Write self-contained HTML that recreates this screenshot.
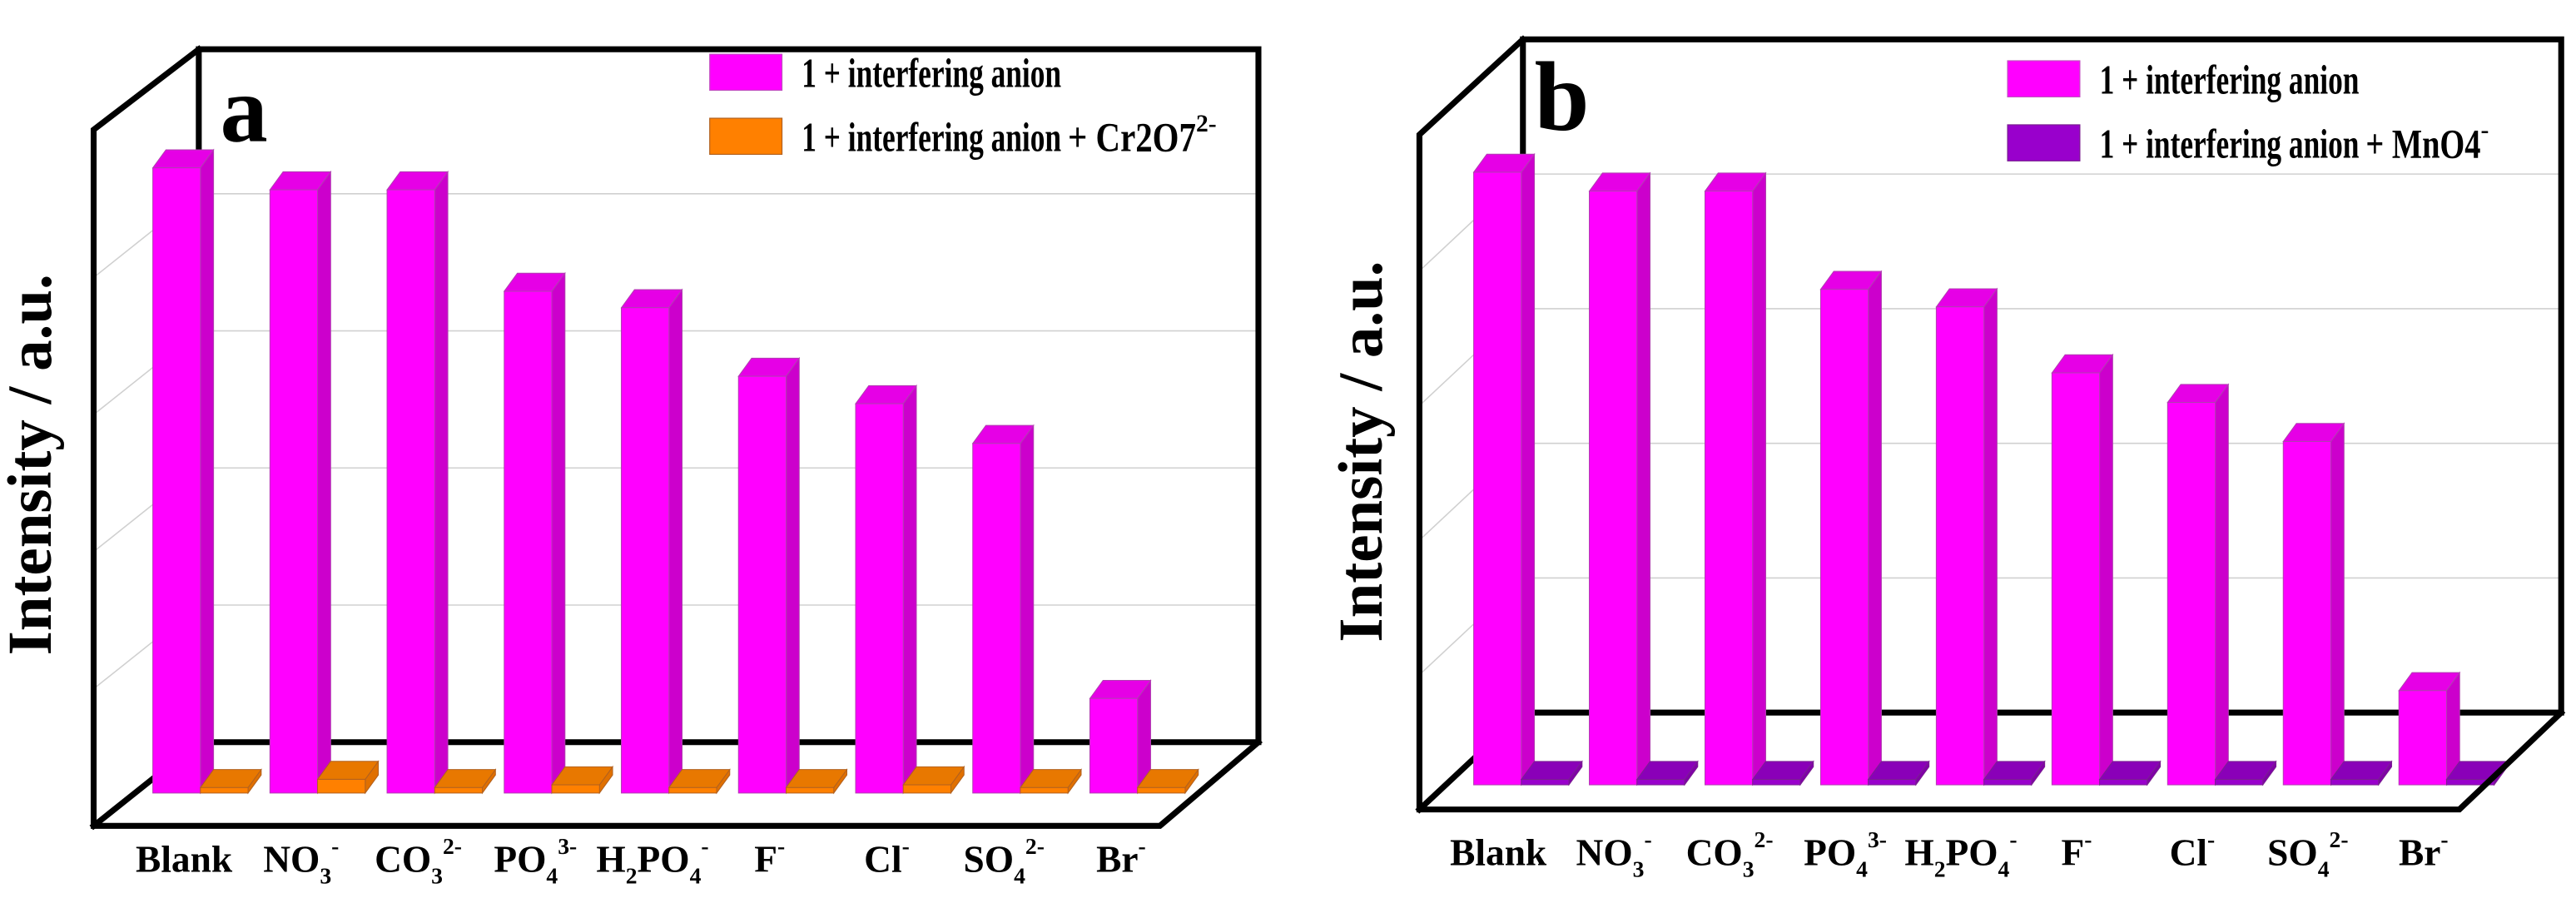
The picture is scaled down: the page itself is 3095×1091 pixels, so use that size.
<!DOCTYPE html>
<html><head><meta charset="utf-8"><style>
html,body{margin:0;padding:0;background:#fff;}
svg{display:block;}
text{font-family:"Liberation Serif",serif;font-weight:bold;fill:#000;}
</style></head>
<body>
<svg id="fig" width="3095" height="1091" viewBox="0 0 1568 553" preserveAspectRatio="none" xmlns="http://www.w3.org/2000/svg"></svg>
<script>
const categories = ["Blank","NO3-","CO32-","PO43-","H2PO4-","F-","Cl-","SO42-","Br-"];
const seriesA1 = [4560,4400,4400,3660,3540,3040,2840,2550,690];
const seriesA2 = [40,100,40,60,40,40,60,40,40];
const seriesB1 = [4550,4410,4410,3680,3550,3060,2840,2550,700];
const seriesB2 = [40,40,40,40,40,40,40,40,40];
const gridTicks = [1000,2000,3000,4000];

const NS = "http://www.w3.org/2000/svg";
const svg = document.getElementById('fig');
function mk(tag, attrs, parent){
  const e = document.createElementNS(NS, tag);
  for (const k in attrs) e.setAttribute(k, attrs[k]);
  (parent||svg).appendChild(e);
  return e;
}
const labelParts = [
  [["Blank",""]],
  [["NO",""],["3","sub"],["-","sup"]],
  [["CO",""],["3","sub"],["2-","sup"]],
  [["PO",""],["4","sub"],["3-","sup"]],
  [["H",""],["2","sub"],["PO",""],["4","sub"],["-","sup"]],
  [["F",""],["-","sup"]],
  [["Cl",""],["-","sup"]],
  [["SO",""],["4","sub"],["2-","sup"]],
  [["Br",""],["-","sup"]]
];

function drawPanel(p){
  const g = mk('g', {});
  
  
  const k = p.k;
  const yBack = v => p.backFloor - v*k;
  const yBar = v => p.barBase - v*k;
  const xBar = i => p.x0 + i*p.step;
  const dyB = p.frontBottom - p.backFloor;
  gridTicks.forEach(t => {
    const y = yBack(t);
    const l = mk('line', {x1:p.backLeft, y1:y, x2:p.backRight, y2:y, stroke:'#d0d0d0', 'stroke-width':0.8}, g);
    
    
    const d = mk('line', {x1:p.backLeft, y1:y, x2:p.frontLeft, y2:y+dyB, stroke:'#d0d0d0', 'stroke-width':0.8}, g);
    
    
  });
  const st = {stroke:'#000','stroke-width':3.6,'stroke-linecap':'square',fill:'none'};
  const wall = mk('path', Object.assign({d:`M${p.backLeft},${p.backFloor} L${p.backLeft},${p.backTop} L${p.backRight},${p.backTop} L${p.backRight},${p.backFloor} M${p.backLeft},${p.backFloor} L${p.backRight},${p.backFloor} M${p.frontLeft},${p.frontBottom} L${p.backLeft},${p.backFloor}`}, st), g);
  
  
  function bar(x, v, w, cols, nm){
    const top = yBar(v), base = p.barBase, ddx = 8, ddy = -11;
    const bg = mk('g', {}, g);
    
    
    mk('polygon', {points:`${x+w},${base} ${x+w+ddx},${base+ddy} ${x+w+ddx},${top+ddy} ${x+w},${top}`, fill:cols[1], stroke:cols[3], 'stroke-width':0.5}, bg);
    mk('polygon', {points:`${x},${top} ${x+ddx},${top+ddy} ${x+w+ddx},${top+ddy} ${x+w},${top}`, fill:cols[2], stroke:cols[3], 'stroke-width':0.5}, bg);
    mk('rect', {x:x, y:top, width:w, height:base-top, fill:cols[0], stroke:cols[3], 'stroke-width':0.5}, bg);
  }
  categories.forEach((c,i) => {
    bar(xBar(i), p.s1[i], 29, ['#ff00ff','#cc00cc','#e600e6','#b040b0'], 'bar-'+p.id+'-series1-'+i);
    bar(xBar(i)+29, p.s2[i], 29, p.c2, 'bar-'+p.id+'-series2-'+i);
  });
  const front = mk('path', Object.assign({d:`M${p.backLeft},${p.backTop} L${p.frontLeft},${p.frontTop} L${p.frontLeft},${p.frontBottom} L${p.frontRight},${p.frontBottom} L${p.backRight},${p.backFloor}`}, st), g);
  
  
  categories.forEach((c,i) => {
    const t = mk('text', {x:xBar(i)+29+p.lblOff, y:p.lblY, 'font-size':23, 'text-anchor':'middle'}, g);
    
    
    let prevKind = '';
    labelParts[i].forEach(([s,kind]) => {
      const ts = mk('tspan', {}, t);
      if (kind==='sub'){ ts.setAttribute('font-size', 14); ts.setAttribute('dy', 7); }
      else if (kind==='sup'){ ts.setAttribute('font-size', 14); ts.setAttribute('dy', prevKind==='sub' ? -18 : -11); }
      else if (prevKind==='sub'){ ts.setAttribute('dy', -7); }
      ts.textContent = s;
      prevKind = kind;
    });
  });
  const yt = mk('text', {x:0, y:0, 'font-size':38, 'text-anchor':'middle', transform:`translate(${p.ytX},${p.ytY}) rotate(-90)`}, g);
  yt.textContent = 'Intensity / a.u.';
  
  
  const pl = mk('text', {x:p.letterX, y:p.letterY, 'font-size':p.letterSize}, g);
  pl.textContent = p.id;
  
  
  const lg = mk('g', {}, g);
  
  
  const s1 = mk('rect', {x:p.legX, y:p.legY, width:44, height:22, fill:'#ff00ff', stroke:'#c050c0','stroke-width':0.6}, lg);
  
  
  const t1 = mk('text', {x:p.legX+56, y:p.legY+20, 'font-size':25, textLength:158, lengthAdjust:'spacingAndGlyphs'}, lg);
  t1.textContent = '1 + interfering anion';
  
  
  const s2 = mk('rect', {x:p.legX, y:p.legY+39, width:44, height:22, fill:p.c2[0], stroke:p.c2[3],'stroke-width':0.6}, lg);
  
  
  const t2 = mk('text', {x:p.legX+56, y:p.legY+59, 'font-size':25}, lg);
  
  
  const a = mk('tspan', {textLength:158, lengthAdjust:'spacingAndGlyphs'}, t2); a.textContent = '1 + interfering anion';
  const b = mk('tspan', {dx:4, textLength:p.ionLen, lengthAdjust:'spacingAndGlyphs'}, t2); b.textContent = '+ ' + p.ion;
  const c = mk('tspan', {'font-size':15, dy:-12}, t2); c.textContent = p.charge;
}

drawPanel({id:'a', name:'panel-a', k:0.0835, x0:93, step:71.3, barBase:483,
  backLeft:121, backRight:766, backTop:30, backFloor:452,
  frontLeft:57, frontRight:706, frontTop:79, frontBottom:503,
  s1:seriesA1, s2:seriesA2, c2:['#ff8000','#e07000','#e87800','#b06020'],
  lblY:531, lblOff:-10, ytX:31, ytY:283, letterX:134, letterY:86, letterSize:58,
  legX:432, legY:33, ion:'Cr2O7', ionLen:78, charge:'2-'});
drawPanel({id:'b', name:'panel-b', k:0.082, x0:897, step:70.4, barBase:478,
  backLeft:927, backRight:1559, backTop:24, backFloor:434,
  frontLeft:864, frontRight:1497, frontTop:82, frontBottom:493,
  s1:seriesB1, s2:seriesB2, c2:['#9900cc','#8000a8','#8a00b8','#7a2090'],
  lblY:527, lblOff:-14, ytX:841, ytY:275, letterX:934, letterY:79, letterSize:60,
  legX:1222, legY:37, ion:'MnO4', ionLen:70, charge:'-'});
</script>
</body></html>
